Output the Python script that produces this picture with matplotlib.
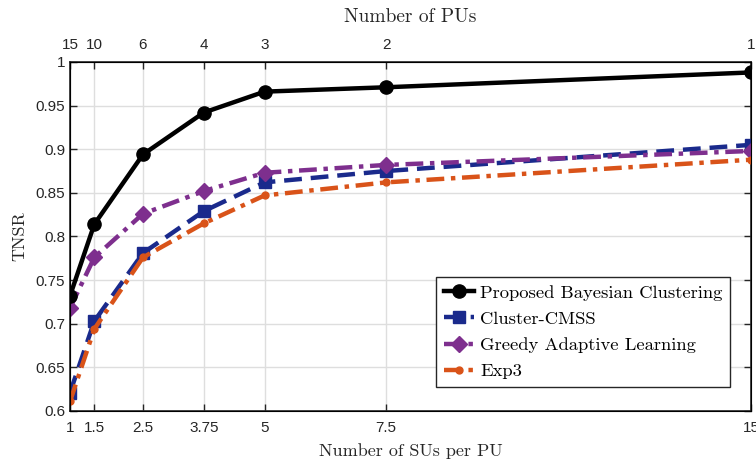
import matplotlib
matplotlib.use("Agg")
import matplotlib.pyplot as plt

# data
sus_per_pu = [1, 1.5, 2.5, 3.75, 5, 7.5, 15]
num_pus = [15, 10, 6, 4, 3, 2, 1]
xtick_labels = ['1', '1.5', '2.5', '3.75', '5', '7.5', '15']

proposed = [0.732, 0.814, 0.894, 0.942, 0.966, 0.971, 0.988]
cluster_cmss = [0.621, 0.703, 0.781, 0.829, 0.862, 0.875, 0.905]
greedy = [0.718, 0.776, 0.826, 0.852, 0.873, 0.882, 0.898]
exp3 = [0.611, 0.694, 0.776, 0.815, 0.847, 0.862, 0.888]

serif = 'cmr10'
tickfont = ['Liberation Sans Narrow', 'Liberation Sans', 'DejaVu Sans']

fig = plt.figure(figsize=(7.56, 4.59), dpi=100)
ax = fig.add_axes([0.0926, 0.1046, 0.9008, 0.7604])

ax.plot(sus_per_pu, proposed, '-', color='black', lw=3.2, marker='o', ms=9.5,
        label='Proposed Bayesian Clustering', zorder=5)
ax.plot(sus_per_pu, cluster_cmss, '--', color='#1a2a8c', lw=3.2, marker='s', ms=8,
        dashes=(4, 2), label='Cluster-CMSS', zorder=4)
ax.plot(sus_per_pu, greedy, '-.', color='#7e2f8e', lw=3.2, marker='D', ms=8,
        dashes=(4, 1.5, 1, 1.5), label='Greedy Adaptive Learning', zorder=4)
ax.plot(sus_per_pu, exp3, '-.', color='#d95319', lw=3.2, marker='o', ms=5,
        dashes=(4, 1.5, 1, 1.5), label='Exp3', zorder=4)

ax.set_xlim(1, 15)
ax.set_ylim(0.6, 1.0)
ax.set_xticks(sus_per_pu)
ax.set_xticklabels(xtick_labels)
ax.set_yticks([0.6, 0.65, 0.7, 0.75, 0.8, 0.85, 0.9, 0.95, 1.0])
ax.set_yticklabels(['0.6', '0.65', '0.7', '0.75', '0.8', '0.85', '0.9', '0.95', '1'])
ax.grid(True, color='#dedede', lw=1)
ax.set_axisbelow(True)
ax.tick_params(direction='in', length=5, width=1, colors='#262626', labelsize=11,
               right=True, labelcolor='#262626')
ax.tick_params(axis='x', pad=7)
for lab in ax.get_xticklabels() + ax.get_yticklabels():
    lab.set_family(tickfont)
for s in ax.spines.values():
    s.set_linewidth(1.2)
    s.set_color('#262626')
ax.set_xlabel('Number of SUs per PU', family=serif, fontsize=13, color='#262626', labelpad=6)
ax.set_ylabel('TNSR', family=serif, fontsize=13, color='#262626', labelpad=6)

top = ax.twiny()
top.set_xlim(ax.get_xlim())
top.set_xticks(sus_per_pu)
top.set_xticklabels([str(n) for n in num_pus])
top.tick_params(direction='in', length=5, width=1, colors='#262626', labelsize=11, pad=7)
for lab in top.get_xticklabels():
    lab.set_family(tickfont)
top.set_xlabel('Number of PUs', family=serif, fontsize=14, color='#262626', labelpad=12)

leg = ax.legend(loc='lower right', bbox_to_anchor=(0.969, 0.069), prop={'family': serif, 'size': 13.4},
                fancybox=False, edgecolor='#262626', framealpha=1, handlelength=1.65,
                handletextpad=0.3, borderpad=0.4, labelspacing=0.55, borderaxespad=0)
leg.get_frame().set_linewidth(1)

fig.savefig('out.png', dpi=100)
